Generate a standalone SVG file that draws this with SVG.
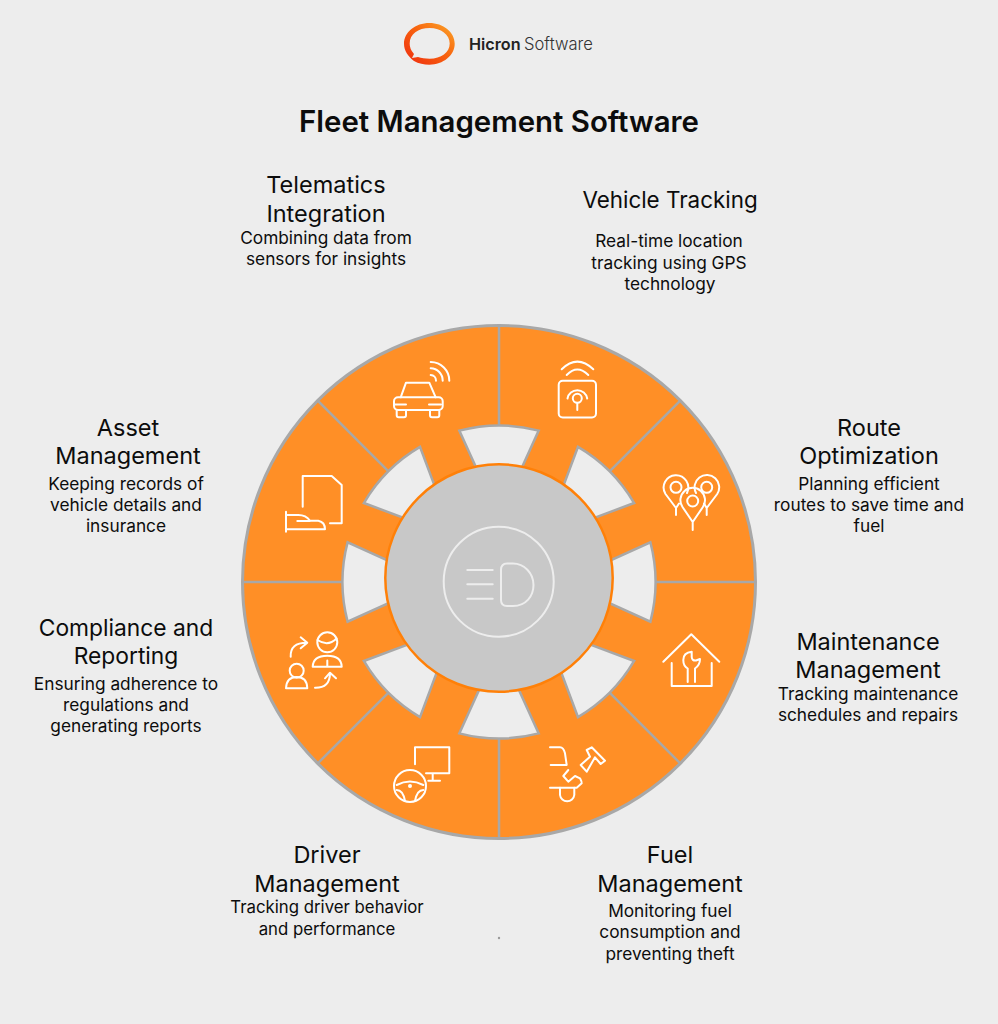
<svg xmlns="http://www.w3.org/2000/svg" width="998" height="1024" viewBox="0 0 998 1024">
<style>
text{font-family:"Inter","Noto Sans","Liberation Sans",sans-serif;text-anchor:middle;fill:#0c0c0c}
.t{font-size:29.4px;font-weight:600}
.h{font-size:23.5px;font-weight:400}
.b{font-size:17.3px;font-weight:400}
.i{fill:none;stroke:#fff;stroke-width:2;stroke-linecap:round;stroke-linejoin:round}
.c{fill:none;stroke:#ededed;stroke-width:2;stroke-linecap:round;stroke-linejoin:round}
.sep{stroke:#a8a8a8;stroke-width:2.5}
.notch{fill:#ededed;stroke:#a8a8a8;stroke-width:2.5;stroke-linejoin:miter}
</style>
<defs>
<linearGradient id="lg" x1="0" y1="1" x2="1" y2="0"><stop offset="0" stop-color="#ee2a10"/><stop offset="0.55" stop-color="#f8640f"/><stop offset="1" stop-color="#fba82a"/></linearGradient>
<path id="n" d="M-39.7,-151.4A156.5,156.5 0 0 1 39.7,-151.4L18.6,-105H-18.6Z"/>
</defs>
<rect width="998" height="1024" fill="#ededed"/>
<g id="logo">
<path fill-rule="evenodd" fill="url(#lg)" d="M404,43.8C404,32 415.5,23 429.3,23C443.2,23 454.7,32 454.7,43.8C454.7,55.5 443.2,64.7 429.3,64.7C424,64.7 418.5,63.5 414,61C408,56.5 404,50.5 404,43.8ZM414,54Q409.5,49 409.7,43.5C409.7,34 418,28 429.7,28C441,28 449.7,34.5 449.7,43.5C449.7,52.5 441,58.7 429.7,58.7C425,58.7 421.5,58 418,57L412,58Z"/>
<text x="469" y="50" style="text-anchor:start;font-size:16.2px;font-weight:600;fill:#222">Hicron</text>
<text x="524" y="50" style="text-anchor:start;font-size:16.6px;font-weight:300;fill:#333">Software</text>
</g>
<text class="t" x="499" y="132">Fleet Management Software</text>
<g id="wheel">
<circle cx="499" cy="582" r="256.5" fill="#ff8f26" stroke="#a8a8a8" stroke-width="3"/>
</g>
<g id="connectors" transform="translate(499 582)">
<line class="sep" x1="0" y1="-156" x2="0" y2="-256"/>
<line class="sep" x1="0" y1="-156" x2="0" y2="-256" transform="rotate(45)"/>
<line class="sep" x1="0" y1="-156" x2="0" y2="-256" transform="rotate(90)"/>
<line class="sep" x1="0" y1="-156" x2="0" y2="-256" transform="rotate(135)"/>
<line class="sep" x1="0" y1="-156" x2="0" y2="-256" transform="rotate(180)"/>
<line class="sep" x1="0" y1="-156" x2="0" y2="-256" transform="rotate(225)"/>
<line class="sep" x1="0" y1="-156" x2="0" y2="-256" transform="rotate(270)"/>
<line class="sep" x1="0" y1="-156" x2="0" y2="-256" transform="rotate(315)"/>
</g>
<g id="notches" transform="translate(499 582)">
<use href="#n" class="notch"/>
<use href="#n" class="notch" transform="rotate(45)"/>
<use href="#n" class="notch" transform="rotate(90)"/>
<use href="#n" class="notch" transform="rotate(135)"/>
<use href="#n" class="notch" transform="rotate(180)"/>
<use href="#n" class="notch" transform="rotate(225)"/>
<use href="#n" class="notch" transform="rotate(270)"/>
<use href="#n" class="notch" transform="rotate(315)"/>
</g>
<g id="center">
<circle cx="499" cy="578" r="113.7" fill="#c8c8c8" stroke="#ff8008" stroke-width="2.5"/>
<g class="c">
<circle cx="498.7" cy="581.7" r="55"/>
<path d="M467.3,570H492.7M467.3,584.3H492.7M467.3,598.7H492.7"/>
<path d="M507,563.5Q501,563.5 501,570V600Q501,606 507,606H513C526,606 533.5,596 533.5,585C533.5,573 524,563.5 513,563.5Z"/>
</g>
</g>
<g id="telematics">
<g class="i">
<path d="M400.7,397.3L406,382.7H429.3L435.7,397.3"/>
<rect x="394" y="397.3" width="48.7" height="12.7" rx="4"/>
<path d="M396.7,410V415.3Q396.7,417.3 398.7,417.3H404Q406,417.3 406,415.3V410M430,410V415.3Q430,417.3 432,417.3H437.3Q439.3,417.3 439.3,415.3V410"/>
<path d="M395,404.5H406M429,404.5H441"/>
<path d="M430.7,362A18.7,18.7 0 0 1 449.3,380.7M430.7,368.3A12.3,12.3 0 0 1 442.7,380.7M430.7,375A5.7,5.7 0 0 1 436,380.7"/>
</g>
<text class="h" x="326" y="193">Telematics</text><text class="h" x="326" y="222">Integration</text>
<text class="b" x="326" y="244">Combining data from</text><text class="b" x="326" y="265">sensors for insights</text>
</g>
<g id="tracking">
<g class="i">
<rect x="558.7" y="380.7" width="37.3" height="36.7" rx="4"/>
<path d="M561.7,369.3Q577.3,354 593.3,369.3M566.7,375Q577.3,364 588.3,375"/>
<circle cx="577.3" cy="398.3" r="4.5"/>
<path d="M577.3,403V410M567.5,398.5A10,10 0 0 1 587.2,398.5"/>
</g>
<text class="h" x="670" y="208" style="font-size:22.4px">Vehicle Tracking</text>
<text class="b" x="669" y="247">Real-time location</text><text class="b" x="669" y="269">tracking using GPS</text><text class="b" x="670" y="290">technology</text>
</g>
<g id="route">
<g class="i">
<path d="M692.7,530V522L682.5,507A12.3,12.3 0 1 1 702.9,507L692.7,522"/>
<circle cx="692.7" cy="501" r="5.5"/>
<path d="M676,515V508L665.5,494A12.3,12.3 0 1 1 687,493M676,508L679,503.5"/>
<circle cx="676" cy="487.3" r="5.5"/>
<path d="M706.7,515V508L717.2,494A12.3,12.3 0 1 0 696,493M706.7,508L704,503.5"/>
<circle cx="706.7" cy="487.3" r="5.5"/>
</g>
<text class="h" x="869" y="436">Route</text><text class="h" x="869" y="464">Optimization</text>
<text class="b" x="869" y="490">Planning efficient</text><text class="b" x="869" y="511">routes to save time and</text><text class="b" x="869" y="532">fuel</text>
</g>
<g id="maintenance">
<g class="i">
<path d="M663.3,661.7L691.3,634.3L719.3,661.7M671.7,663V686H711.7V663"/>
<path d="M687.7,682V668.5Q683.3,666 683.3,660Q683.3,652.5 691.7,651.7V657Q692,661 696,660.5L700,659Q700,665 695,668.5V682"/>
</g>
<text class="h" x="868" y="650">Maintenance</text><text class="h" x="868" y="678">Management</text>
<text class="b" x="868" y="700">Tracking maintenance</text><text class="b" x="868" y="721">schedules and repairs</text>
</g>
<g id="fuel">
<g class="i">
<path d="M550,747.3H560Q563.5,747.3 565,753.3L566.7,765H550.7"/>
<path d="M568.3,770L563.3,776L568.3,781.7L575,776L580,778.3Q582,782 581.7,783.3L576.7,787.7H550"/>
<path d="M560,787.7V795A7.2,7.2 0 0 0 574.3,795V787.7"/>
<path d="M586.7,750L591.7,747.3L605,760.7L600.7,764L595,757.3L586.7,771.7L580.7,765L590,756.7Z"/>
</g>
<text class="h" x="670" y="863">Fuel</text><text class="h" x="670" y="892">Management</text>
<text class="b" x="670" y="917">Monitoring fuel</text><text class="b" x="670" y="938">consumption and</text><text class="b" x="670" y="960">preventing theft</text>
</g>
<g id="driver">
<g class="i">
<path d="M415,764.3V747.3H449.3V773.3H426M432.7,773.3V780.7M428.3,780.7H440"/>
<circle cx="410" cy="786" r="16"/>
<path d="M396.7,785Q410,778 423.3,785M396.7,790Q403,790 405,801M423.3,790Q417,790 415,801"/>
<circle cx="410" cy="786" r="1"/>
</g>
<text class="h" x="327" y="863">Driver</text><text class="h" x="327" y="892">Management</text>
<text class="b" x="327" y="913" style="font-size:16.8px">Tracking driver behavior</text><text class="b" x="327" y="935" style="font-size:16.8px">and performance</text>
</g>
<g id="compliance">
<g class="i">
<circle cx="327.3" cy="642.3" r="10"/>
<path d="M317.5,640Q328,647 336.5,638.5"/>
<path d="M312.7,666.7Q313,655.7 327.3,655.7Q341.5,655.7 341.7,666.7ZM327.3,660.5V666.7"/>
<circle cx="296.7" cy="670.7" r="7"/>
<path d="M286,688.3Q286.5,677 296.7,677Q307,677 307.3,688.3Z"/>
<path d="M290.7,656.7Q290,642.7 306.7,642.7M300.7,637.3L307.3,642.7L300.7,648.3"/>
<path d="M315,687.7Q330,688 330,673.3M325,678.3L330,672.7L336,678.3"/>
</g>
<text class="h" x="126" y="636" style="font-size:22.8px">Compliance and</text><text class="h" x="126" y="664" style="font-size:22.8px">Reporting</text>
<text class="b" x="126" y="690">Ensuring adherence to</text><text class="b" x="126" y="711">regulations and</text><text class="b" x="126" y="732">generating reports</text>
</g>
<g id="asset">
<g class="i">
<path d="M302.7,506.7V476H331.7L341.7,485V523.3H330"/>
<path d="M286,511.7V531.7M286,515H298.3Q306,515 310,520.7H318.3Q325,522 325,529.3H286M297.3,521H310"/>
</g>
<text class="h" x="128" y="436">Asset</text><text class="h" x="128" y="464">Management</text>
<text class="b" x="126" y="490">Keeping records of</text><text class="b" x="126" y="511">vehicle details and</text><text class="b" x="126" y="532">insurance</text>
</g>
<circle cx="499" cy="938" r="1.2" fill="#9a9a9a"/>
</svg>
